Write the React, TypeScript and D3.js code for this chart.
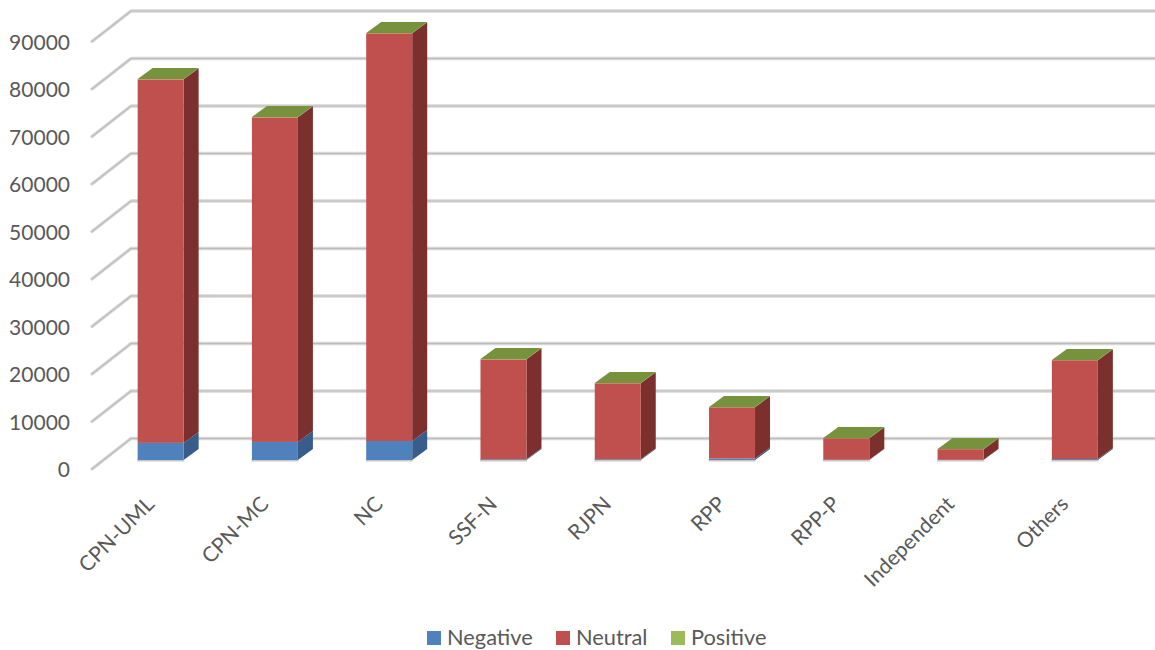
import React from "react";
import * as d3 from "d3";

const categories = ["CPN-UML", "CPN-MC", "NC", "SSF-N", "RJPN", "RPP", "RPP-P", "Independent", "Others"];
const negative = [3600, 3800, 4000, 150, 150, 300, 60, 40, 200];
const neutral = [76540, 68340, 85840, 21040, 16010, 10810, 4530, 2240, 20810];
const positive = [60, 60, 60, 70, 40, 50, 40, 20, 40];
const seriesNames = ["Negative", "Neutral", "Positive"];
const yTicks = [0, 10000, 20000, 30000, 40000, 50000, 60000, 70000, 80000, 90000];

const palette: Record<string, { front: string; side: string; top: string }> = {
  Negative: { front: "#4F81BD", side: "#385D8A", top: "#3F6797" },
  Neutral: { front: "#C0504D", side: "#7C302E", top: "#9A403E" },
  Positive: { front: "#9BBB59", side: "#5F7530", top: "#76923C" },
};

const width = 1155;
const height = 650;
const font = "Lato, 'Open Sans', sans-serif";
const textColor = "#595959";

// Oblique projection: the depth of a bar and the reach of the wall/floor grid
const barDepth = { dx: 15, dy: -11 };
const gridFront = { dx: 0, dy: 9 };
const gridBack = { dx: 39, dy: -21.5 };

const x = d3.scaleBand<string>().domain(categories).range([104, 1132.5]);
const y = d3.scaleLinear().domain([0, 90000]).range([460, 32.5]);

const rows = categories.map((c, i) => ({
  category: c,
  Negative: negative[i],
  Neutral: neutral[i],
  Positive: positive[i],
}));
const stacked = d3.stack<any>().keys(seriesNames)(rows);

const poly = (pts: [number, number][]) => pts.map((p) => p.join(",")).join(" ");

export default function App() {
  const bw = 46;
  const barLeft = (c: string) => x(c)! + (x.bandwidth() - bw) / 2 - 0.5;
  const { dx, dy } = barDepth;
  return (
    <svg
      width={width}
      height={height}
      viewBox={`0 0 ${width} ${height}`}
      style={{ position: "absolute", left: 0, top: 0, background: "#fff" }}
    >
      <g fill="none" strokeLinejoin="round" strokeLinecap="round">
        {yTicks.map((t) => {
          const d = `M92,${y(t) + gridFront.dy}L${92 + gridBack.dx},${y(t) + gridBack.dy}L${width},${y(t) + gridBack.dy}`;
          return (
            <g key={t}>
              <path d={d} stroke="#D6D6D6" strokeWidth={3.4} />
              <path d={d} stroke="#BDBDBD" strokeWidth={1.2} />
            </g>
          );
        })}
      </g>

      <g fontFamily={font} fontSize={21} fill={textColor} textAnchor="end">
        {yTicks.map((t) => (
          <text key={t} x={70} y={y(t) + gridFront.dy + 8}>
            {t}
          </text>
        ))}
      </g>

      {categories.map((c, i) => {
        const x0 = barLeft(c);
        const x1 = x0 + bw;
        const crown = y(stacked[2][i][1]);
        return (
          <g key={c}>
            <rect x={x0 - 0.5} y={y(0) - 0.5} width={bw + 1} height={2} fill="#C8C8C8" />
            {stacked.map((s) => {
              const [v0, v1] = s[i];
              const top = y(v1);
              const bottom = y(v0);
              const col = palette[s.key];
              return (
                <g key={s.key}>
                  <polygon points={poly([[x1, top], [x1 + dx, top + dy], [x1 + dx, bottom + dy], [x1, bottom]])} fill={col.side} />
                  <rect x={x0} y={top} width={bw} height={bottom - top} fill={col.front} />
                </g>
              );
            })}
            <polygon
              points={poly([[x0, crown], [x0 + dx, crown + dy], [x1 + dx, crown + dy], [x1, crown]])}
              fill={palette.Positive.top}
            />
          </g>
        );
      })}

      <g fontFamily={font} fontSize={21} fill={textColor} textAnchor="end">
        {categories.map((c) => (
          <text key={c} transform={`translate(${barLeft(c) + bw / 2 - 15.5},${495}) rotate(-45)`} dy="0.7em">
            {c}
          </text>
        ))}
      </g>

      <g fontFamily={font} fontSize={21.8} fill={textColor}>
        {seriesNames.map((name, i) => {
          const lx = [427, 556, 671][i];
          return (
            <g key={name}>
              <rect x={lx} y={631} width={14} height={14} fill={palette[name].front} />
              <text x={lx + 20} y={645}>
                {name}
              </text>
            </g>
          );
        })}
      </g>
    </svg>
  );
}
